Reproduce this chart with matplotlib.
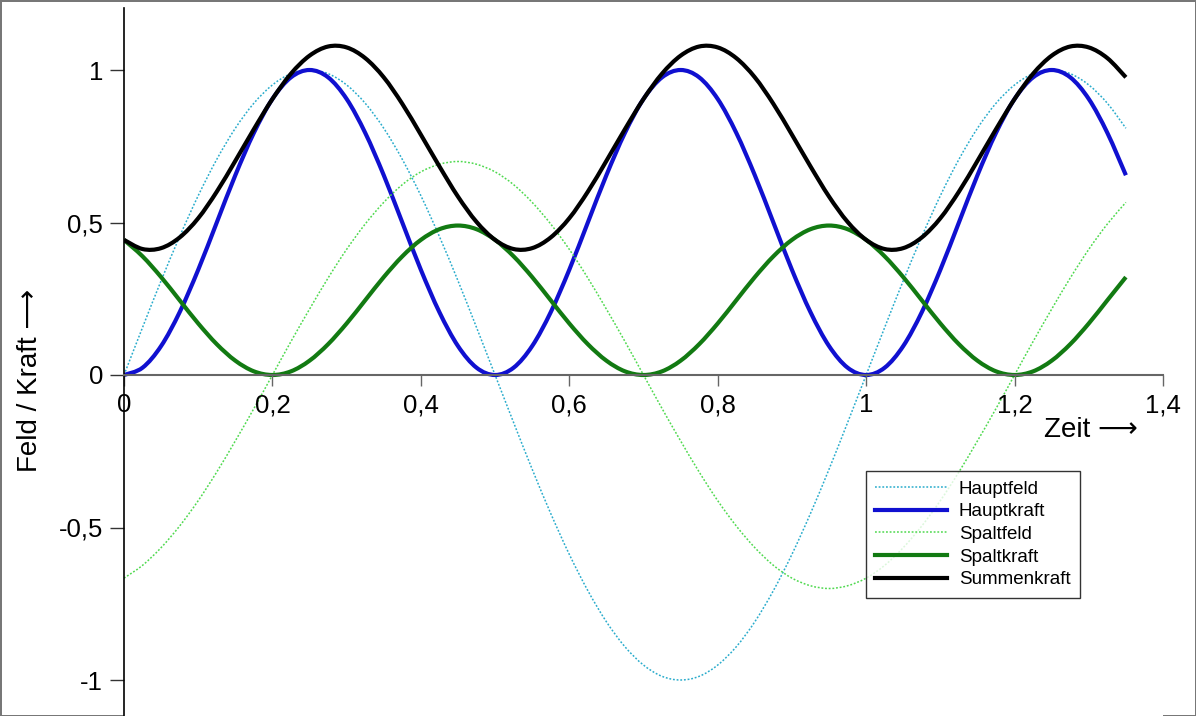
import matplotlib
matplotlib.use("Agg")
import matplotlib.pyplot as plt
from matplotlib.ticker import FixedLocator, FuncFormatter
from matplotlib.path import Path
from matplotlib.patches import PathPatch
from matplotlib.lines import Line2D

# time axis, step 0.025 from 0 to 1.35
zeit = [round(0.025 * k, 3) for k in range(55)]

hauptfeld = [0, .156, .309, .454, .588, .707, .809, .891, .951, .988,
             1, .988, .951, .891, .809, .707, .588, .454, .309, .156,
             0, -.156, -.309, -.454, -.588, -.707, -.809, -.891, -.951, -.988,
             -1, -.988, -.951, -.891, -.809, -.707, -.588, -.454, -.309, -.156,
             0, .156, .309, .454, .588, .707, .809, .891, .951, .988,
             1, .988, .951, .891, .809]

hauptkraft = [0, .024, .095, .206, .345, .5, .655, .794, .905, .976,
              1, .976, .905, .794, .655, .5, .345, .206, .095, .024,
              0, .024, .095, .206, .345, .5, .655, .794, .905, .976,
              1, .976, .905, .794, .655, .5, .345, .206, .095, .024,
              0, .024, .095, .206, .345, .5, .655, .794, .905, .976,
              1, .976, .905, .794, .655]

spaltfeld = [-.666, -.624, -.566, -.495, -.412, -.318, -.216, -.110, 0, .110,
             .216, .318, .412, .495, .566, .624, .666, .691, .7, .691,
             .666, .624, .566, .495, .412, .318, .216, .110, 0, -.110,
             -.216, -.318, -.412, -.495, -.566, -.624, -.666, -.691, -.7, -.691,
             -.666, -.624, -.566, -.495, -.412, -.318, -.216, -.110, 0, .110,
             .216, .318, .412, .495, .566]

spaltkraft = [.443, .389, .321, .245, .169, .101, .047, .012, 0, .012,
              .047, .101, .169, .245, .321, .389, .443, .478, .49, .478,
              .443, .389, .321, .245, .169, .101, .047, .012, 0, .012,
              .047, .101, .169, .245, .321, .389, .443, .478, .49, .478,
              .443, .389, .321, .245, .169, .101, .047, .012, 0, .012,
              .047, .101, .169, .245, .321]

summenkraft = [.443, .413, .416, .451, .514, .601, .702, .806, .905, .988,
               1.047, 1.077, 1.074, 1.039, .976, .889, .788, .684, .585, .502,
               .443, .413, .416, .451, .514, .601, .702, .806, .905, .988,
               1.047, 1.077, 1.074, 1.039, .976, .889, .788, .684, .585, .502,
               .443, .413, .416, .451, .514, .601, .702, .806, .905, .988,
               1.047, 1.077, 1.074, 1.039, .976]

series_names = ['Hauptfeld', 'Hauptkraft', 'Spaltfeld', 'Spaltkraft', 'Summenkraft']
x_ticks = [0, 0.2, 0.4, 0.6, 0.8, 1.0, 1.2, 1.4]
y_ticks = [-1, -0.5, 0, 0.5, 1]

plt.rcParams['font.family'] = ['Liberation Sans', 'DejaVu Sans']

fig = plt.figure(figsize=(11.96, 7.16), dpi=100)
fig.patch.set_edgecolor('#777777')
fig.patch.set_linewidth(1.0)
ax = fig.add_axes([124 / 1196, 0.0, (1163 - 124) / 1196, 1 - 8 / 716])


def smooth_path(xs, ys):
    """Smoothed line (like a spreadsheet 'smoothed line') through the given points,
    drawn as cubic Bezier segments; the data points themselves are unchanged."""
    pts = list(zip(xs, ys))
    n = len(pts)
    verts = [pts[0]]
    codes = [Path.MOVETO]
    for i in range(n - 1):
        p0 = pts[i - 1] if i > 0 else pts[i]
        p1 = pts[i]
        p2 = pts[i + 1]
        p3 = pts[i + 2] if i + 2 < n else pts[i + 1]
        c1 = (p1[0] + (p2[0] - p0[0]) / 6, p1[1] + (p2[1] - p0[1]) / 6)
        c2 = (p2[0] - (p3[0] - p1[0]) / 6, p2[1] - (p3[1] - p1[1]) / 6)
        verts += [c1, c2, p2]
        codes += [Path.CURVE4] * 3
    return Path(verts, codes)


styles = [
    dict(color='#2aaccc', lw=1.1, ls=(0, (1.2, 1.2))),
    dict(color='#1010d0', lw=3.0, ls='-'),
    dict(color='#4fd94f', lw=1.1, ls=(0, (1.2, 1.2))),
    dict(color='#127a12', lw=3.0, ls='-'),
    dict(color='#000000', lw=3.0, ls='-'),
]
data = [hauptfeld, hauptkraft, spaltfeld, spaltkraft, summenkraft]

handles = []
for name, ys, st in zip(series_names, data, styles):
    patch = PathPatch(smooth_path(zeit, ys), fill=False, edgecolor=st['color'],
                      lw=st['lw'], ls=st['ls'], transform=ax.transData,
                      capstyle='butt', joinstyle='round')
    ax.add_patch(patch)
    handles.append(Line2D([], [], color=st['color'], lw=st['lw'], ls=st['ls'], label=name))

ax.set_xlim(0, 1.4)
ax.set_ylim(-(716 - 375) / 305, (375 - 8) / 305)

ax.spines['top'].set_visible(False)
ax.spines['right'].set_visible(False)
ax.spines['bottom'].set_position(('data', 0))
ax.spines['bottom'].set_color('#666666')
ax.spines['bottom'].set_linewidth(1.5)
ax.spines['left'].set_linewidth(1.2)
ax.spines['left'].set_color('black')


def comma(v, pos):
    return ('%g' % v).replace('.', ',')


ax.xaxis.set_major_locator(FixedLocator(x_ticks))
ax.yaxis.set_major_locator(FixedLocator(y_ticks))
ax.xaxis.set_major_formatter(FuncFormatter(comma))
ax.yaxis.set_major_formatter(FuncFormatter(comma))
ax.tick_params(axis='x', direction='out', length=8, width=1, color='#666666',
               labelsize=18.5, pad=5)
ax.tick_params(axis='y', direction='out', length=10, width=1, color='#333333',
               labelsize=18.5, pad=5)

fig.text(30 / 1196, 1 - 380 / 716, 'Feld / Kraft \u27f6', rotation=90,
         ha='center', va='center', fontsize=20)
fig.text(1091 / 1196, 1 - 430 / 716, 'Zeit \u27f6', ha='center', va='center',
         fontsize=20)

leg = ax.legend(handles=handles, loc='upper left',
                bbox_to_anchor=((866 - 124) / 1039, (716 - 471) / 708),
                fontsize=13.5, frameon=True, fancybox=False, edgecolor='black',
                handlelength=3.8, handletextpad=0.65, labelspacing=0.3,
                borderpad=0.5, borderaxespad=0)
leg.get_frame().set_linewidth(1.0)

fig.savefig('out.png', dpi=100)
